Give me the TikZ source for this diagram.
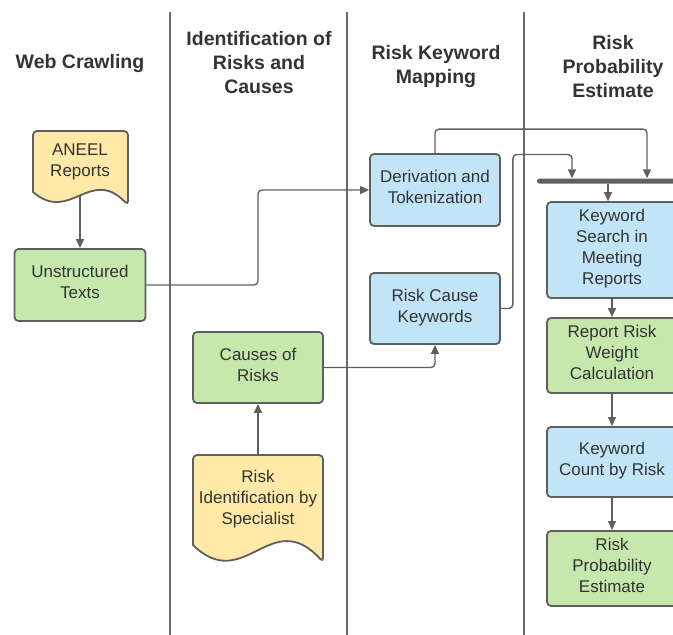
\documentclass[tikz,border=0pt]{standalone}
\usepackage{fontspec}
\setmainfont{Liberation Sans}
\usetikzlibrary{arrows.meta,backgrounds}
\definecolor{bluef}{HTML}{C2E4F7}
\definecolor{greenf}{HTML}{C7E8AD}
\definecolor{yellowf}{HTML}{FFE9A8}
\definecolor{edgec}{HTML}{5F5F5F}
\definecolor{lanec}{HTML}{6A6A6A}
\definecolor{txt}{HTML}{333333}
\newcommand\myBody{\fontsize{17}{21}\selectfont}
\newcommand\myTitle{\fontsize{19.5}{24}\selectfont\bfseries}
\begin{document}
\begin{tikzpicture}[x=1pt,y=-1pt,
  box/.style={draw=edgec, line width=1.8pt, rounded corners=4pt, minimum width=130pt,
    align=center, text=txt, font=\myBody, inner sep=0pt, text depth=6pt},
  doctext/.style={align=center, text=txt, font=\myBody, inner sep=0pt},
  docshape/.style={draw=edgec, fill=yellowf, line width=1.8pt, line join=round},
  title/.style={align=center, text=txt, font=\myTitle, inner sep=0pt},
  lane/.style={draw=lanec, line width=1.8pt},
  arr/.style={draw=edgec, line width=1.4pt, -{Triangle[length=9pt,width=8pt]}, rounded corners=4pt}]
\useasboundingbox (0,0) rectangle (673,635);
\clip (0,0) rectangle (673,635);

% titles
\node[title] (t1) at (80,63.5) {Web Crawling};
\node[title] (t2) at (259,62.5) {Identification of\\Risks and\\Causes};
\node[title] (t3) at (436,66.5) {Risk Keyword\\Mapping};
\node[title] (t4) at (613,66.5) {Risk\\Probability\\Estimate};

% process boxes
\node[box, fill=greenf, minimum width=131pt, minimum height=72pt] (unstr) at (80,285) {Unstructured\\Texts};
\node[box, fill=bluef, minimum height=72pt] (deriv) at (435,190) {Derivation and\\Tokenization};
\node[box, fill=bluef, minimum height=71pt] (rck) at (435,308.5) {Risk Cause\\Keywords};
\node[box, fill=greenf, minimum height=71pt] (causes) at (258,367.5) {Causes of\\Risks};
\node[box, fill=bluef, minimum height=96pt] (kws) at (612,250) {Keyword\\Search in\\Meeting\\Reports};
\node[box, fill=greenf, minimum height=75pt] (rrw) at (612,355.5) {Report Risk\\Weight\\Calculation};
\node[box, fill=bluef, minimum height=70pt] (kcr) at (612,462) {Keyword\\Count by Risk};
\node[box, fill=greenf, minimum height=75pt] (rpe) at (612,568.5) {Risk\\Probability\\Estimate};

% join bar
\node[fill=edgec, minimum width=142pt, minimum height=5pt, inner sep=0pt, rounded corners=2.5pt] (bar) at (608,181) {};

% document shapes
\path[docshape] (128,205) .. controls (90,166) and (70,224) .. (33,192)
  [rounded corners=4pt] -- (33,131) -- (128,131) -- cycle;
\node[doctext, minimum width=95pt, minimum height=58pt] (aneel) at (80,162) {ANEEL\\Reports};
\path[docshape] (323,562) .. controls (271,505) and (244,595) .. (193,545)
  [rounded corners=4pt] -- (193,455) -- (323,455) -- cycle;
\node[doctext, minimum width=130pt, minimum height=84pt] (riskid) at (258,499.5) {Risk\\Identification by\\Specialist};

\begin{pgfonlayer}{background}
  \draw[lane] (170,12) -- (170,635);
  \draw[lane] (347,12) -- (347,635);
  \draw[lane] (524,12) -- (524,635);

  \draw[arr] (aneel.south) -- (unstr.north);
  \draw[arr] (unstr.east) -- (unstr.east -| causes.north) -- (causes.north |- deriv.west) -- (deriv.west);
  \draw[arr] (deriv.north) -- ++(0,-24) -| ([xshift=39pt]bar.north);
  \draw[arr] (rck.east) -- ++(12,0) -- ++(0,-154) -| ([xshift=-36pt]bar.north);
  \draw[arr] (causes.east) -| (rck.south);
  \draw[arr] (riskid.north) -- (causes.south);
  \draw[arr] (bar.south) -- (bar.south |- kws.north);
  \draw[arr] (kws.south) -- (rrw.north);
  \draw[arr] (rrw.south) -- (kcr.north);
  \draw[arr] (kcr.south) -- (rpe.north);
\end{pgfonlayer}
\end{tikzpicture}
\end{document}
